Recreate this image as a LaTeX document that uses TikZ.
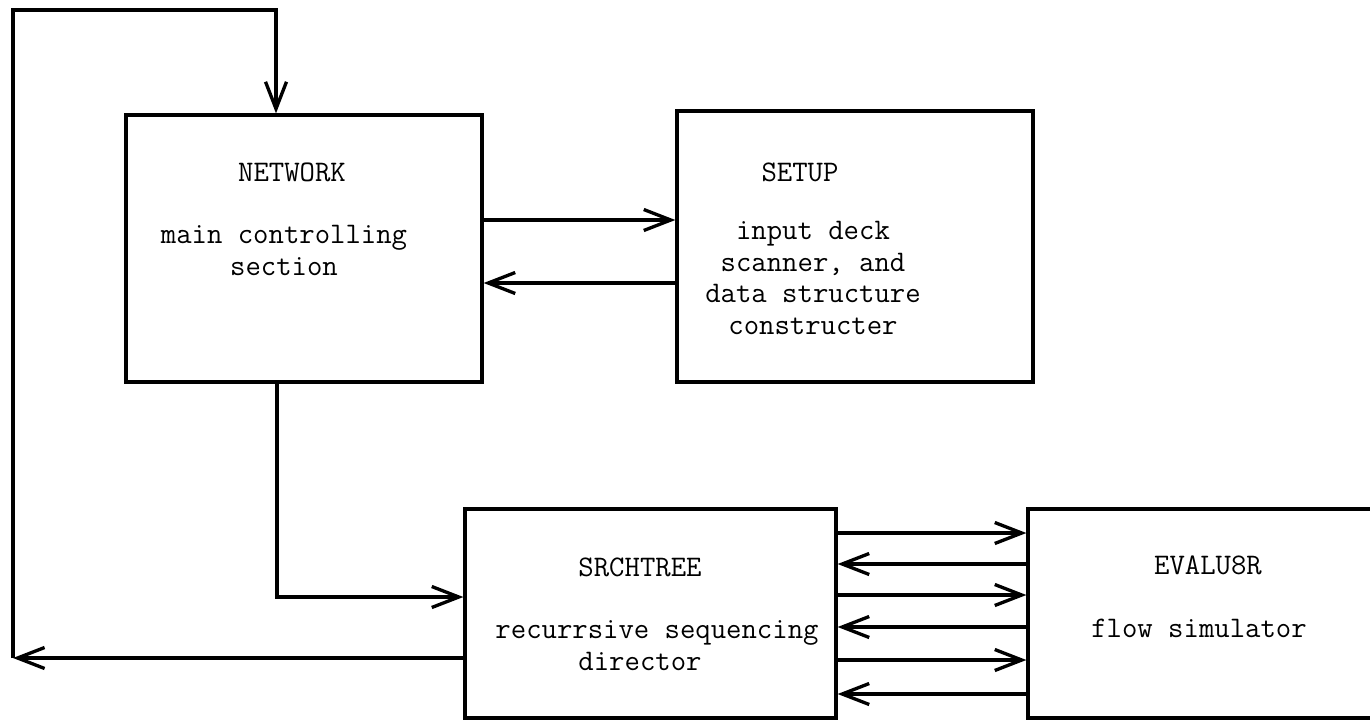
\documentclass[tikz,border=0pt]{standalone}
\usetikzlibrary{arrows.meta}

\tikzset{
  block/.style={draw, line width=1.9pt, inner sep=0pt},
  caption/.style={font=\ttfamily\fontsize{17}{17.9}\selectfont, align=center, anchor=base, inner sep=0pt},
  flow/.style={line width=1.9pt, -{Straight Barb[length=0.54cm, width=0.42cm]}},
}

\begin{document}
\begin{tikzpicture}[x=0.02cm, y=-0.02cm]
  \useasboundingbox (0,0) rectangle (1370,721);

  % Program sections
  \node[block, minimum width=7.12cm, minimum height=5.34cm] (network) at (304,248.5) {};
  \node[block, minimum width=7.12cm, minimum height=5.42cm] (setup) at (855,246.5) {};
  \node[block, minimum width=7.42cm, minimum height=4.18cm] (srchtree) at (650.5,613.5) {};
  \node[block, minimum width=7.44cm, minimum height=4.18cm] (evalu8r) at (1214,613.5) {};

  % Names and what they do (base = last line)
  \node[caption] (networkname) at (292,181) {NETWORK};
  \node[caption] (networktext) at (284,275) {main controlling\\section};
  \node[caption] (setupname) at (800,181) {SETUP};
  \node[caption] (setuptext) at (813,334) {input deck\\scanner, and\\data structure\\constructer};
  \node[caption] (srchtreename) at (640,576) {SRCHTREE};
  \node[caption] (srchtreetext) at (657,670) {recurrsive sequencing\\director\hspace*{0.68cm}};
  \node[caption] (evalu8rname) at (1208,574) {EVALU8R};
  \node[caption] (evalu8rtext) at (1199,637) {flow simulator};

  % Bends of the connectors
  \coordinate (corner) at (13,658);
  \coordinate (top) at (276,10);
  \coordinate (drop) at (277,597);

  % Calls and returns
  \draw[flow] (network.east |- 0,220) -- (setup.west |- 0,220);
  \draw[flow] (setup.west |- 0,283) -- (network.east |- 0,283);
  \draw[flow] (network.south -| drop) |- (srchtree.west |- drop);
  \draw[flow] (srchtree.west |- corner) -- (corner);
  \draw[flow] (corner) |- (top) -- (top |- network.north);
  \foreach \y in {533, 595, 660}
    \draw[flow] (srchtree.east |- 0,\y) -- (evalu8r.west |- 0,\y);
  \foreach \y in {564, 627, 694}
    \draw[flow] (evalu8r.west |- 0,\y) -- (srchtree.east |- 0,\y);
\end{tikzpicture}
\end{document}
